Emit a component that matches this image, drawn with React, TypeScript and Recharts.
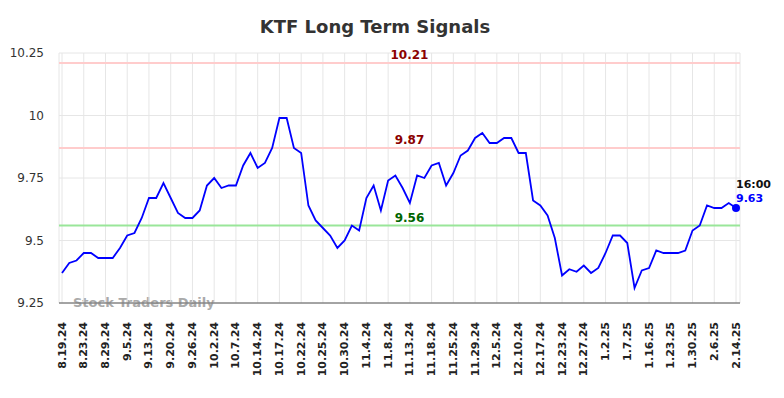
import { CartesianGrid, Line, LineChart, ReferenceLine, XAxis, YAxis } from 'recharts'

const FONT = '"DejaVu Sans", sans-serif'

// Trading dates; every third one is shown as a tick.
const dates = [
  '8.19.24', '8.20.24', '8.22.24', '8.23.24', '8.26.24', '8.28.24', '8.29.24', '8.30.24', '9.3.24',
  '9.5.24', '9.9.24', '9.11.24', '9.13.24', '9.16.24', '9.18.24', '9.20.24', '9.23.24', '9.25.24',
  '9.26.24', '9.27.24', '10.1.24', '10.2.24', '10.3.24', '10.4.24', '10.7.24', '10.9.24', '10.11.24',
  '10.14.24', '10.15.24', '10.16.24', '10.17.24', '10.18.24', '10.21.24', '10.22.24', '10.23.24', '10.24.24',
  '10.25.24', '10.28.24', '10.29.24', '10.30.24', '10.31.24', '11.1.24', '11.4.24', '11.6.24', '11.7.24',
  '11.8.24', '11.11.24', '11.12.24', '11.13.24', '11.14.24', '11.15.24', '11.18.24', '11.20.24', '11.22.24',
  '11.25.24', '11.26.24', '11.27.24', '11.29.24', '12.2.24', '12.4.24', '12.5.24', '12.6.24', '12.9.24',
  '12.10.24', '12.12.24', '12.16.24', '12.17.24', '12.18.24', '12.20.24', '12.23.24', '12.24.24', '12.26.24',
  '12.27.24', '12.30.24', '12.31.24', '1.2.25', '1.3.25', '1.6.25', '1.7.25', '1.10.25', '1.14.25',
  '1.16.25', '1.17.25', '1.22.25', '1.23.25', '1.24.25', '1.28.25', '1.30.25', '1.31.25', '2.4.25',
  '2.6.25', '2.11.25', '2.13.25', '2.14.25',
]

const prices = [
  9.37, 9.41, 9.42, 9.45, 9.45, 9.43, 9.43, 9.43, 9.47, 9.52,
  9.53, 9.59, 9.67, 9.67, 9.73, 9.67, 9.61, 9.59, 9.59, 9.62,
  9.72, 9.75, 9.71, 9.72, 9.72, 9.8, 9.85, 9.79, 9.81, 9.87,
  9.99, 9.99, 9.87, 9.85, 9.64, 9.58, 9.55, 9.52, 9.47, 9.5,
  9.56, 9.54, 9.67, 9.72, 9.62, 9.74, 9.76, 9.71, 9.65, 9.76,
  9.75, 9.8, 9.81, 9.72, 9.77, 9.84, 9.86, 9.91, 9.93, 9.89,
  9.89, 9.91, 9.91, 9.85, 9.85, 9.66, 9.64, 9.6, 9.51, 9.36,
  9.385, 9.375, 9.4, 9.37, 9.39, 9.45, 9.52, 9.52, 9.49, 9.31,
  9.38, 9.39, 9.46, 9.45, 9.45, 9.45, 9.46, 9.54, 9.56, 9.64,
  9.63, 9.63, 9.65, 9.63,
]

const yTicks = [9.25, 9.5, 9.75, 10, 10.25]
const upperLevel = 10.21
const midLevel = 9.87
const lowerLevel = 9.56
const lastTime = '16:00'

const data = dates.map((date, i) => ({ date, price: prices[i] }))

function DateTick({ x, y, payload }: any) {
  const ty = y + 19
  return (
    <text
      x={x}
      y={ty}
      transform={`rotate(-90 ${x} ${ty})`}
      textAnchor="end"
      dominantBaseline="central"
      fontSize={11}
      fontWeight="bold"
      fill="#222"
      fontFamily={FONT}
    >
      {payload.value}
    </text>
  )
}

const levelLabel = (text: string, color: string) => (props: any) => {
  const vb = props.viewBox
  return (
    <text
      x={vb.x + vb.width / 2 + 10}
      y={vb.y - 4}
      textAnchor="middle"
      fontSize={12}
      fontWeight="bold"
      fill={color}
      fontFamily={FONT}
    >
      {text}
    </text>
  )
}

function LastDot(props: any) {
  const { cx, cy, index } = props
  if (index !== prices.length - 1) return <g key={index} />
  return (
    <g key={index}>
      <circle cx={cx} cy={cy} r={4} fill="#0000ff" />
      <text x={cx} y={cy - 20} fontSize={11} fontWeight="bold" fill="#111" fontFamily={FONT}>
        {lastTime}
      </text>
      <text x={cx} y={cy - 6} fontSize={11} fontWeight="bold" fill="#0000ff" fontFamily={FONT}>
        {prices[prices.length - 1].toFixed(2)}
      </text>
    </g>
  )
}

export default function App() {
  return (
    <div style={{ position: 'absolute', left: 0, top: 0, width: 784, height: 398, background: '#fff' }}>
      <svg width={784} height={398} style={{ position: 'absolute', left: 0, top: 0 }}>
        <text x={375} y={33} textAnchor="middle" fontSize={18} fontWeight="bold" fill="#333" fontFamily={FONT}>
          KTF Long Term Signals
        </text>
        <text x={73} y={307} fontSize={13} fontWeight="bold" fill="#aaa" fontFamily={FONT}>
          Stock Traders Daily
        </text>
      </svg>
      <div style={{ position: 'absolute', left: 0, top: 0 }}>
        <LineChart width={784} height={398} data={data} margin={{ top: 53, right: 44, bottom: 0, left: 0 }}>
          <CartesianGrid stroke="#e6e6e6" strokeWidth={1} />
          <XAxis
            dataKey="date"
            interval={2}
            height={95}
            padding={{ left: 3, right: 4 }}
            tick={<DateTick />}
            tickLine={false}
            tickSize={0}
            tickMargin={0}
            axisLine={{ stroke: '#555', strokeWidth: 1 }}
          />
          <YAxis
            width={59}
            domain={[9.25, 10.25]}
            ticks={yTicks}
            tickFormatter={(v: number) => String(v)}
            tick={{ fontSize: 12, fill: '#333', fontFamily: FONT }}
            tickLine={false}
            axisLine={false}
            tickSize={0}
            tickMargin={15}
          />
          <ReferenceLine y={upperLevel} stroke="#ffcccc" strokeWidth={2} label={levelLabel('10.21', '#8b0000')} />
          <ReferenceLine y={midLevel} stroke="#ffcccc" strokeWidth={2} label={levelLabel('9.87', '#8b0000')} />
          <ReferenceLine y={lowerLevel} stroke="#99e699" strokeWidth={2} label={levelLabel('9.56', '#006400')} />
          <Line
            dataKey="price"
            type="linear"
            stroke="#0000ff"
            strokeWidth={1.8}
            dot={LastDot}
            activeDot={false}
            isAnimationActive={false}
          />
        </LineChart>
      </div>
    </div>
  )
}
